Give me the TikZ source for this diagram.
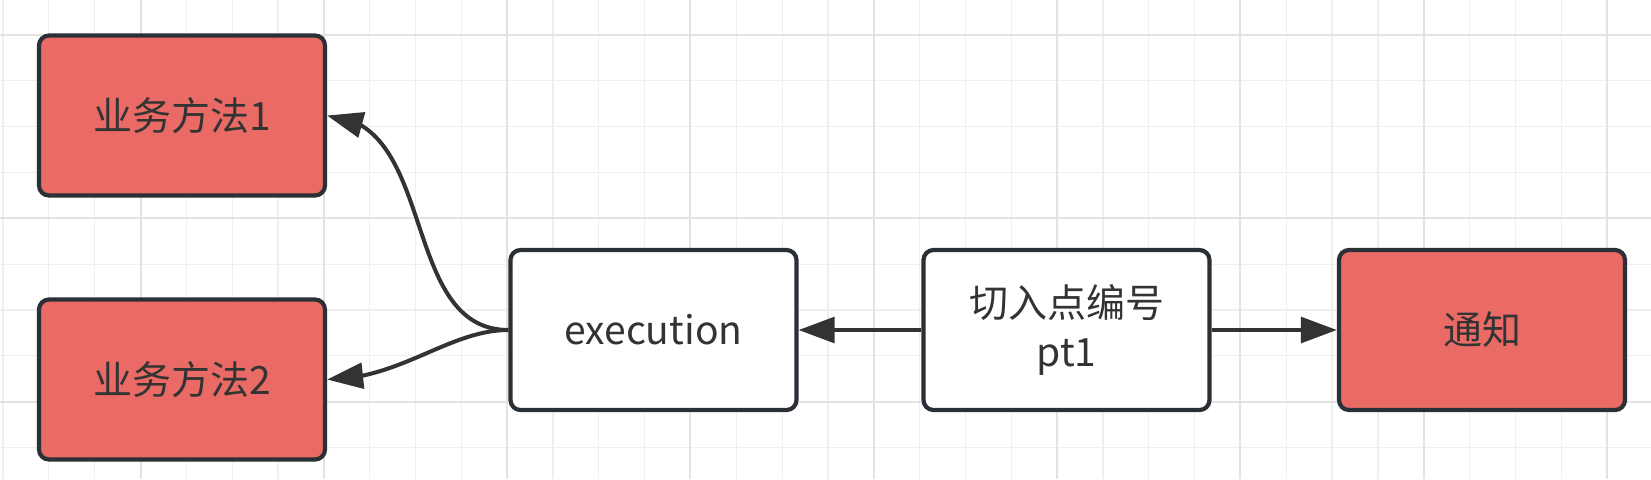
\documentclass[tikz,border=0pt]{standalone}
\usepackage{fontspec}
\newfontfamily\cjkfont{Noto Sans CJK SC}
\usetikzlibrary{arrows.meta,bending}
\definecolor{boxred}{HTML}{EA6B66}
\definecolor{boxline}{HTML}{2B2F36}
\definecolor{arrowc}{HTML}{333333}
\definecolor{txt}{HTML}{333333}
\definecolor{gridminor}{HTML}{EFEFEF}
\definecolor{gridmajor}{HTML}{E3E3E3}
\begin{document}
\begin{tikzpicture}[x=0.5pt,y=-0.5pt,
  box/.style={draw=boxline, line width=2.1pt, rounded corners=5pt,
    minimum width=143pt, minimum height=80pt, inner sep=0pt,
    text=txt, font=\cjkfont\fontsize{19.5}{24.5}\selectfont, align=center},
  redbox/.style={box, fill=boxred},
  whitebox/.style={box, fill=white},
  conn/.style={draw=arrowc, line width=2pt, -{Triangle[length=18pt,width=12.8pt]}},
  gminor/.style={draw=gridminor, line width=0.6pt},
  gmajor/.style={draw=gridmajor, line width=1pt}]
\useasboundingbox (0,0) rectangle (1651,479);
\fill[white] (0,0) rectangle (1651,479);
\foreach \n in {0,...,35} \draw[gminor] ({3+45.83*\n},0) -- ({3+45.83*\n},479);
\foreach \m in {0,...,9} \draw[gminor] (0,{35+45.83*\m}) -- (1651,{35+45.83*\m});
\foreach \n in {0,...,8} \draw[gmajor] ({140.5+183.33*\n},0) -- ({140.5+183.33*\n},479);
\foreach \m in {0,1,2} \draw[gmajor] (0,{35+183.33*\m}) -- (1651,{35+183.33*\m});

\node[redbox] (b1) at (182,115.5) {业务方法1};
\node[redbox] (b2) at (182,379.5) {业务方法2};
\node[whitebox] (ex) at (653.5,330) {execution};
\node[whitebox] (pt) at (1066.5,330) {切入点编号\\pt1};
\node[redbox] (tz) at (1482,330) {通知};

\draw[conn] (ex.west) .. controls +(-109,0) and +(111,4.5) .. (b1.east);
\draw[conn] (ex.west) .. controls +(-59,0) and +(73,0) .. (b2.east);
\draw[conn] (pt.west) -- (ex.east);
\draw[conn] (pt.east) -- (tz.west);
\end{tikzpicture}
\end{document}
